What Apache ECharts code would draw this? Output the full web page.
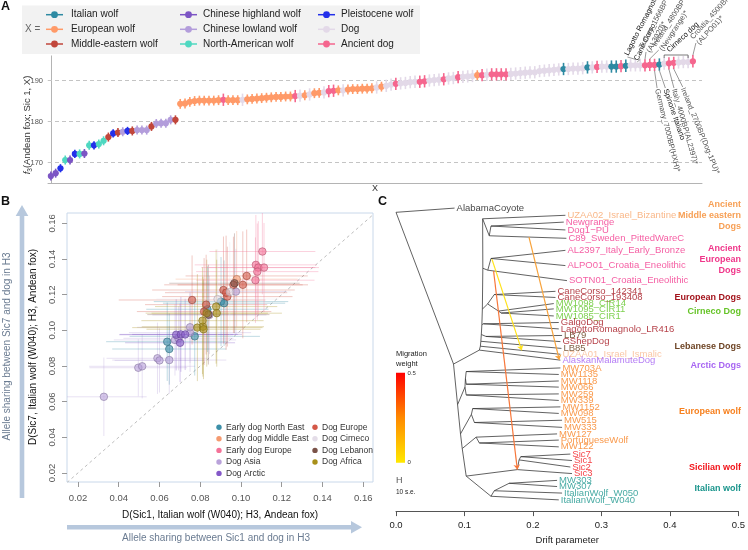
<!DOCTYPE html>
<html><head><meta charset="utf-8">
<script src="https://cdn.jsdelivr.net/npm/echarts@6/dist/echarts.min.js"></script>
<style>html,body{margin:0;padding:0;background:#fff}#c{width:748px;height:550px}</style>
</head><body><div id="c"></div>
<script>
// ---------------- Panel A data ----------------
const aGroupNames = ['Italian wolf','European wolf','Middle-eastern wolf','Chinese highland wolf','Chinese lowland wolf','North-American wolf','Pleistocene wolf','Dog','Ancient dog'];
const aGroupColors = ['#2e8aa2','#ff9a68','#c1463b','#7c55c4','#b39ddb','#4fd8c1','#2330ea','#e3d9e8','#f5668e'];
const aGroupErr = [1.5,1.2,1.1,1.1,1.1,1.1,1.0,1.5,1.5];
const aValues = [
 166.7,167.4,168.6,170.6,170.6,172.1,172.1,172.2,174.2,174.2,174.5,175.3,176.2,177.1,177.3,177.5,177.7,177.7,177.9,177.9,177.9,178.8,179.5,179.6,179.6,180.4,180.4,
 184.3,184.4,184.8,185.0,185.1,185.1,185.1,185.1,185.2,185.3,185.2,185.2,185.2,185.3,185.4,185.5,185.6,185.7,185.8,185.9,186.0,186.0,186.1,186.1,186.2,186.3,186.4,186.6,186.9,187.0,187.1,187.4,187.5,187.6,187.6,187.8,187.9,187.9,188.0,188.0,
 188.1,188.3,188.5,188.7,189.0,189.2,189.3,189.4,189.6,189.7,189.7,189.8,190.0,190.1,190.2,190.3,190.5,190.6,190.8,190.9,
 191.0,191.1,191.3,191.3,191.4,191.5,191.5,191.5,191.5,191.6,191.7,191.8,191.9,192.0,192.0,192.3,192.4,192.5,192.6,192.7,
 192.8,192.8,192.9,192.9,193.0,193.2,193.2,193.3,193.4,193.4,193.4,193.4,193.5,193.6,193.7,193.7,193.7,193.7,193.8,193.8,
 193.9,194.1,194.2,194.3,194.4,194.5,194.5,194.7];
const aGroups = [
 3,3,6,5,3,6,5,3,5,6,5,5,2,6,2,4,6,2,4,4,4,2,4,4,4,4,2,
 1,1,1,1,1,1,1,1,1,8,1,1,1,7,1,1,1,1,1,1,1,1,1,1,8,7,1,7,1,1,7,8,8,1,7,1,1,1,1,1,
 1,7,1,7,7,8,7,7,7,7,8,8,7,7,7,8,7,7,8,7,
 7,7,1,8,7,8,8,8,8,7,7,7,7,7,7,7,7,7,7,7,
 0,7,7,7,7,0,7,8,7,7,0,0,8,0,7,7,7,8,8,8,
 0,7,8,8,7,7,7,8];
const aTickValues = [170,180,190];

// ---------------- Panel B data ----------------
const bGroupNames = ['Early dog North East','Early dog Middle East','Early dog Europe','Dog Asia','Dog Arctic','Dog Europe','Dog Cirneco','Dog Lebanon','Dog Africa'];
const bGroupColors = ['#3c8fa8','#f59a70','#f47298','#b9a2da','#8458c8','#d45848','#e4dde8','#7a5248','#a8901a'];
const bX = [0.0327,0.0496,0.0515,0.059,0.060,0.0648,0.0676,0.0693,0.075,0.075,0.0845,0.0975,
 0.0682,0.0705,0.0726,0.0701,
 0.0638,0.0648,0.0773,0.0835,0.0902,0.0917,
 0.0786,0.0813,0.0811,0.0816,0.0832,0.0878,0.0881,
 0.076,0.0829,0.0819,0.0914,0.0933,0.0927,0.0963,0.1009,0.1028,
 0.0968,0.0840,
 0.0979,
 0.1105,0.1073,0.1085,0.1113,0.1080,0.1071,
 0.0885,0.0945];
const bY = [0.0627,0.079,0.0798,0.0843,0.0831,0.0833,0.0946,0.0955,0.0987,0.1017,0.1086,0.1217,
 0.0975,0.0977,0.0977,0.093,
 0.0936,0.0895,0.0966,0.1118,0.1161,0.1152,
 0.1015,0.102,0.1054,0.1006,0.1096,0.1133,0.1096,
 0.117,0.1144,0.1105,0.1226,0.1189,0.1211,0.1255,0.1255,0.1305,
 0.1264,0.1088,
 0.1287,
 0.1442,0.1367,0.1352,0.1352,0.1329,0.1281,
 0.1175,0.1215];
const bErrX = [0.021,0.024,0.026,0.025,0.022,0.028,0.03,0.027,0.03,0.026,0.028,0.025,
 0.028,0.03,0.026,0.027,
 0.03,0.028,0.032,0.03,0.033,0.03,
 0.032,0.03,0.03,0.028,0.03,0.03,0.032,
 0.036,0.03,0.033,0.035,0.032,0.03,0.034,0.032,0.03,
 0.032,0.03,
 0.03,
 0.026,0.03,0.028,0.027,0.03,0.029,
 0.03,0.03];
const bErrY = [0.022,0.016,0.018,0.02,0.018,0.019,0.02,0.018,0.022,0.02,0.022,0.024,
 0.02,0.021,0.02,0.022,
 0.022,0.02,0.022,0.024,0.025,0.024,
 0.03,0.028,0.03,0.028,0.03,0.032,0.03,
 0.025,0.028,0.03,0.03,0.028,0.032,0.027,0.03,0.026,
 0.028,0.028,
 0.027,
 0.024,0.028,0.026,0.025,0.027,0.024,
 0.028,0.028];
const bGroup = [3,3,3,3,3,3,3,3,3,3,3,3, 4,4,4,4, 0,0,0,0,0,0, 8,8,8,8,8,8,8, 5,5,5,5,5,5,5,5,5, 7,7, 1, 2,2,2,2,2,2, 6,6];
const bTicks = [0.02,0.04,0.06,0.08,0.10,0.12,0.14,0.16];

// ---------------- Panel C data (TreeMix tree) ----------------
const nodeNames  = ['R','A','S1','S2','S3','S4','G1','S5','G2','S6','CIRCC','CC','CIR','CIRb','S7','E1','E2','C','T1','T2','V1','Wabc','Wab','Wa','Wb','Wc','V2','Wde','Wd','We','V3','Wf','Wg','Sa','Sc0','Sc1','Sc2','It0','It1','It2'];
const nodeParent = ['','R','A','S1','S2','S3','S4','S4','S5','S5','S6','CIRCC','CIRCC','CIR','S6','S7','E1','S7','C','T1','A','V1','Wabc','Wab','Wab','Wabc','V1','V2','Wde','Wde','V2','V3','Wf','V3','Sa','Sc0','Sc1','Sa','It0','It1'];
const nodeDrift  = [0.0,0.084,0.1217,0.1232,0.1239,0.1246,0.1314,0.1254,0.1275,0.1261,0.1338,0.1435,0.1497,0.1536,0.1268,0.134,0.1387,0.1265,0.1362,0.1387,0.0899,0.1007,0.1014,0.1025,0.1025,0.1025,0.0942,0.1101,0.112,0.1145,0.0967,0.117,0.1217,0.1025,0.1772,0.1797,0.1822,0.1387,0.1435,0.1652];
const nodeRow    = [1.9,25.31,23.16,22.56,21.8,20.75,21.05,19.25,19.1,16.84,16.04,14.59,17.14,17.44,10.53,10.83,9.02,2.9,5.52,4.02,31.58,28.87,27.52,26.47,28.42,30.08,36.09,33.08,32.18,34.33,38.35,36.59,37.49,42.6,41.6,40.1,39.6,45.71,44.86,43.71];
const leafNames = ['AlabamaCoyote','UZAA02_Israel_Bizantine','Newgrange','Dog1\u2212PU','C89_Sweden_PittedWareC','AL2397_Italy_Early_Bronze','ALPO01_Croatia_Eneolithic','SOTN01_Croatia_Eneolithic','CaneCorso_142341','CaneCorso_193408','MW1098_CIR14','MW1095_CIR11','MW1085_CIR1','GalgoDog','LagottoRomagnolo_LR416','LB79','GShepDog','LB85','UZAA01_Israel_Ismalic','AlaskanMalamuteDog','MW703A','MW1135','MW1118','MW066','MW259','MW339','MW1152','MW098','MW515','MW333','MW127','PortugueseWolf','MW122','Sic7','Sic1','Sic2','Sic3','MW303','MW307','ItalianWolf_W050','ItalianWolf_W040'];
const leafParent = ['R','C','T2','T2','T1','E2','E2','E1','CC','CC','CIR','CIRb','CIRb','G2','G2','G1','G1','S3','S2','S1','Wa','Wa','Wb','Wb','Wc','Wc','Wd','Wd','We','We','Wf','Wg','Wg','Sc2','Sc2','Sc1','Sc0','It2','It2','It1','It0'];
const leafDrift = [0.0855,0.2474,0.245,0.2474,0.2488,0.2474,0.2474,0.2497,0.2329,0.2329,0.2304,0.2304,0.2304,0.2377,0.2377,0.2425,0.2401,0.2416,0.2401,0.2401,0.2401,0.2377,0.2377,0.2377,0.2377,0.2377,0.2401,0.2377,0.2425,0.2425,0.2352,0.2377,0.2377,0.2546,0.257,0.2546,0.257,0.2352,0.2352,0.2425,0.2377];
const leafRow = [1.25,2.36,3.41,4.62,5.91,7.77,10.12,12.44,14.09,15.04,15.98,16.8,17.89,18.9,19.89,20.9,21.85,22.9,23.8,24.71,25.91,26.92,27.92,28.87,29.92,30.93,31.92,32.93,33.98,35.08,36.09,37.04,38.09,39.2,40.2,41.2,42.21,43.26,44.21,45.22,46.27];
const leafColorIdx = [0,1,2,2,2,2,2,2,3,3,4,4,4,3,3,5,3,5,6,7,8,8,8,8,8,8,8,8,8,8,8,8,8,9,9,9,9,10,10,10,10];
const treeColors = ['#111111','#f7a56a','#f2368c','#a3101a','#5ec424','#5c3310','#f9b990','#a35ef2','#f7801e','#f2141a','#19958c'];
const migFrom = [[0.1942,5.72],[0.1401,9.13],[0.1425,10.95]];
const migTo   = [[0.2385,24.68],[0.1836,23.2],[0.1772,41.6]];
const migColor = ['#f8a33c','#ffe21c','#f7773a'];

// ---------------- helpers ----------------
const FF = '"Liberation Sans", Arial, Helvetica, sans-serif';
const font = (s, w) => (w ? w + ' ' : '') + s + 'px ' + FF;
function rgba(hex, a){const n=parseInt(hex.slice(1),16);return 'rgba('+(n>>16&255)+','+(n>>8&255)+','+(n&255)+','+a+')';}
function darker(hex, f){const n=parseInt(hex.slice(1),16);const c=[n>>16&255,n>>8&255,n&255].map(v=>Math.round(v*f));return 'rgb('+c.join(',')+')';}

const chart = echarts.init(document.getElementById('c'));

// tree edges
const nIdx = {}; nodeNames.forEach((n,k)=>nIdx[n]=k);
const posOf = n => [nodeDrift[nIdx[n]], nodeRow[nIdx[n]]];
const treeEdges = [];
nodeNames.forEach((n,k)=>{ if (nodeParent[k]) treeEdges.push({coords:[posOf(nodeParent[k]), [nodeDrift[k], nodeRow[k]]]}); });
leafNames.forEach((n,k)=> treeEdges.push({coords:[posOf(leafParent[k]), [leafDrift[k], leafRow[k]]]}));

const series = [];
// A gridlines
series.push({type:'custom', xAxisIndex:0, yAxisIndex:0, silent:true, z:1,
  data: aTickValues.map(v=>[0,v]),
  renderItem(params, api){
    const cs = params.coordSys; const y = api.coord([0, api.value(1)])[1];
    return {type:'line', shape:{x1:cs.x, y1:y, x2:cs.x+cs.width, y2:y}, style:{stroke:'#c4c4c4', lineWidth:1, lineDash:[4,3]}};
  }});
// A points
series.push({type:'custom', xAxisIndex:0, yAxisIndex:0, z:3,
  data: aValues.map((v,i)=>[i, v, aGroups[i]]),
  renderItem(params, api){
    const i=api.value(0), v=api.value(1), g=api.value(2);
    const p=api.coord([i,v]), t=api.coord([i,v+aGroupErr[g]]), b=api.coord([i,v-aGroupErr[g]]);
    const c=aGroupColors[g];
    return {type:'group', children:[
      {type:'line', shape:{x1:p[0],y1:t[1],x2:p[0],y2:b[1]}, style:{stroke:c, lineWidth:1.6}},
      {type:'line', shape:{x1:p[0]-2.8,y1:p[1],x2:p[0]+2.8,y2:p[1]}, style:{stroke:c, lineWidth:1.2}},
      {type:'circle', shape:{cx:p[0],cy:p[1],r:3.1}, style:{fill:c}}
    ]};
  }});
// B diagonal
series.push({type:'line', xAxisIndex:1, yAxisIndex:1, symbol:'none', silent:true, z:1,
  data:[[0.0146,0.0146],[0.1655,0.1655]], lineStyle:{color:'#bdbdbd', width:1, type:[3,3]}});
// B error bars
series.push({type:'custom', xAxisIndex:1, yAxisIndex:1, clip:true, z:2, silent:true,
  data: bX.map((x,k)=>[x, bY[k], bErrX[k], bErrY[k], bGroup[k]]),
  renderItem(params, api){
    const x=api.value(0), y=api.value(1), ex=api.value(2), ey=api.value(3), g=api.value(4);
    const c=bGroupColors[g];
    const l=api.coord([x-ex,y]), r=api.coord([x+ex,y]), t=api.coord([x,y+ey]), b=api.coord([x,y-ey]);
    return {type:'group', children:[
      {type:'line', shape:{x1:l[0],y1:l[1],x2:r[0],y2:r[1]}, style:{stroke:c, lineWidth:1, opacity:0.32}},
      {type:'line', shape:{x1:t[0],y1:t[1],x2:b[0],y2:b[1]}, style:{stroke:c, lineWidth:1, opacity:0.32}}
    ]};
  }});
// B points
bGroupNames.forEach((name,g)=>{
  const d=[]; bX.forEach((x,k)=>{ if (bGroup[k]===g) d.push([x,bY[k]]); });
  series.push({type:'scatter', name, xAxisIndex:1, yAxisIndex:1, z:4, symbolSize:7.5, data:d,
    itemStyle:{color:rgba(bGroupColors[g],0.75), borderColor:darker(bGroupColors[g],0.75), borderWidth:0.8}});
});
// C tree
series.push({type:'lines', coordinateSystem:'cartesian2d', xAxisIndex:2, yAxisIndex:2, z:2, silent:true,
  data: treeEdges, lineStyle:{color:'#3a3a3a', width:0.8, opacity:1}});
series.push({type:'lines', coordinateSystem:'cartesian2d', xAxisIndex:2, yAxisIndex:2, z:3, silent:true,
  symbol:['none','arrow'], symbolSize:5,
  data: migFrom.map((f,k)=>({coords:[f, migTo[k]], lineStyle:{color:migColor[k]}})),
  lineStyle:{width:1.2, opacity:1}});
series.push({type:'scatter', xAxisIndex:2, yAxisIndex:2, z:4, symbolSize:1, itemStyle:{color:'rgba(0,0,0,0)'}, silent:true,
  data: leafNames.map((n,k)=>({name:n, value:[leafDrift[k], leafRow[k]], label:{color:treeColors[leafColorIdx[k]]}})),
  label:{show:true, position:'right', distance:1.5, formatter:'{b}', fontSize:9.5, fontFamily:FF}});

const option = {
  animation:false,
  backgroundColor:'#fff',
  textStyle:{fontFamily:FF},
  grid:[
    {left:48, top:55.9, width:654, height:127.1},
    {left:67, top:213, width:306, height:269, show:true, borderColor:'#c9d8ea', borderWidth:1, backgroundColor:'transparent'},
    {left:396, top:200, width:345, height:319.2}
  ],
  xAxis:[
    {gridIndex:0, type:'value', min:-0.6, max:135.9, axisLine:{show:true, lineStyle:{color:'#b4b4b4'}}, axisTick:{show:false}, axisLabel:{show:false}, splitLine:{show:false},
      name:'X', nameLocation:'middle', nameGap:1, nameTextStyle:{fontSize:9, color:'#333', verticalAlign:'top'}},
    {gridIndex:1, type:'value', min:0.0146, max:0.1648, axisLine:{show:false}, splitLine:{show:false},
      axisTick:{show:true, customValues:bTicks, length:5, lineStyle:{color:'#999'}},
      axisLabel:{customValues:bTicks, formatter:v=>v.toFixed(2), fontSize:9.5, color:'#555', margin:11}},
    {gridIndex:2, type:'value', position:'bottom', min:0, max:0.5, interval:0.1, splitLine:{show:false},
      axisLine:{show:true, onZero:false, lineStyle:{color:'#555'}}, axisTick:{show:true, length:5, lineStyle:{color:'#555'}},
      axisLabel:{formatter:v=>v.toFixed(1), fontSize:9.5, color:'#222', margin:9},
      name:'Drift parameter', nameLocation:'middle', nameGap:21, nameTextStyle:{fontSize:9.5, color:'#222'}}
  ],
  yAxis:[
    {gridIndex:0, type:'value', min:165, max:196, splitLine:{show:false},
      axisLine:{show:true, lineStyle:{color:'#b4b4b4'}},
      axisTick:{show:true, customValues:aTickValues, length:3, lineStyle:{color:'#999'}},
      axisLabel:{customValues:aTickValues, fontSize:7.5, color:'#555', margin:5}},
    {gridIndex:1, type:'value', min:0.0149, max:0.1658, axisLine:{show:false}, splitLine:{show:false},
      axisTick:{show:true, customValues:bTicks, length:5, lineStyle:{color:'#999'}},
      axisLabel:{customValues:bTicks, formatter:v=>v.toFixed(2), rotate:90, fontSize:9.5, color:'#555', margin:10}},
    {gridIndex:2, type:'value', min:0, max:48, inverse:true, show:false}
  ],
  series
};
chart.setOption(option);

// ---------------- graphics / annotations ----------------
const G = [];
const txt = (x,y,text,o={}) => G.push({type:'text', x, y, rotation:o.rot||0, silent:true, z:100,
  style:{text, fill:o.fill||'#111', font:font(o.size||9, o.weight), align:o.align||'left', verticalAlign:o.va||'middle', rich:o.rich, lineHeight:o.lh}});
const line = (x1,y1,x2,y2,stroke,w) => G.push({type:'line', silent:true, z:100, shape:{x1,y1,x2,y2}, style:{stroke, lineWidth:w||0.8}});

// panel letters
txt(1,7,'A',{size:12.5, weight:'bold'});
txt(1,202,'B',{size:12.5, weight:'bold'});
txt(378,202,'C',{size:12.5, weight:'bold'});

// Panel A legend
G.push({type:'rect', silent:true, z:90, shape:{x:22,y:5.5,width:398,height:48.5}, style:{fill:'#f2f2f2'}});
txt(25,29.5,'X =',{size:10, fill:'#666'});
const legColX=[46,180,318], legTxtX=[71,203,341], legRowY=[14.7,29.3,44];
aGroupNames.forEach((n,k)=>{
  const c=Math.floor(k/3), r=k%3, c0=aGroupColors[k];
  line(legColX[c], legRowY[r], legColX[c]+17, legRowY[r], c0, 1.5);
  G.push({type:'circle', silent:true, z:101, shape:{cx:legColX[c]+8.5, cy:legRowY[r], r:3.4}, style:{fill:c0}});
  txt(legTxtX[c], legRowY[r], n, {size:10, fill:'#222'});
});
// Panel A y-axis name
txt(27.5,125,'{i|f}{s|3}(Andean fox; Sic 1, X)',{rot:Math.PI/2, align:'center', fill:'#333', size:9.5,
  rich:{i:{fontStyle:'italic', fontSize:9.5, fontFamily:FF, fill:'#333'}, s:{fontSize:6.5, fontFamily:FF, fill:'#333', padding:[5,0,0,0]}}});

// Panel A annotations
const pA = i => chart.convertToPixel({gridIndex:0},[i, aValues[i]]);
const topNotes = [
  {i:122, t:'Lagotto Romagnolo', b:true, dx:-9, y:55, rot:63},
  {i:123, t:'Cane Corso', b:true, dx:-4, y:60, rot:64},
  {i:124, t:'Turkey_1566BP\n(AL3020)*', dx:0, y:50, rot:62},
  {i:125, t:'Ireland_4800BP\n(Newgrange)*', dx:8, y:48, rot:57},
  {i:134, t:'Croatia_4500BP\n(ALPO01)*', dx:2, y:41, rot:48}
];
topNotes.forEach(n=>{
  const p=pA(n.i), lx=p[0]+n.dx;
  line(p[0], p[1]-6, lx+1, n.y+2, '#555', 0.6);
  txt(lx, n.y, n.t, {rot:n.rot*Math.PI/180, size:7.5, fill:n.b?'#111':'#555', lh:8.5});
});
// Cirneco bracket
{
  const p1=pA(128), p2=pA(133);
  line(p1[0], 55, p2[0], 55, '#444', 0.7);
  line(p1[0], 55, p1[0], 58, '#444', 0.7);
  line(p2[0], 55, p2[0], 58, '#444', 0.7);
  txt(p1[0]+4, 51, 'Cirneco dog', {rot:43*Math.PI/180, size:7.5, fill:'#111'});
}
const botNotes = [
  {i:126, t:'Germany_7000BP(HXH)*', dx:2.5, y:89, rot:-76},
  {i:127, t:'Spinone Italiano', b:true, dx:6, y:89, rot:-71},
  {i:129, t:'Italy_4000BP(AL2397)*', dx:5, y:89, rot:-74},
  {i:130, t:'Ireland_2700BP(Dog-1PU)*', dx:9, y:88, rot:-68}
];
botNotes.forEach(n=>{
  const p=pA(n.i), lx=p[0]+n.dx;
  line(p[0], p[1]+6, lx, n.y-1, '#555', 0.6);
  txt(lx, n.y, n.t, {rot:n.rot*Math.PI/180, size:7.5, fill:n.b?'#111':'#555'});
});

// Panel B axis names and arrows
txt(220,515.7,'D(Sic1, Italian wolf (W040); H3, Andean fox)',{size:10, align:'center', fill:'#111'});
txt(33,347,'D(Sic7, Italian wolf (W040); H3, Andean fox)',{size:10, align:'center', fill:'#111', rot:Math.PI/2});
txt(216,538,'Allele sharing between Sic1 and dog in H3',{size:10, align:'center', fill:'#6a7b91'});
txt(7.5,346.5,'Allele sharing between Sic7 and dog in H3',{size:10, align:'center', fill:'#6a7b91', rot:Math.PI/2});
G.push({type:'rect', silent:true, z:90, shape:{x:67,y:525,width:285,height:4.6}, style:{fill:'#b7c8dd'}});
G.push({type:'polygon', silent:true, z:90, shape:{points:[[351,521],[362,527.3],[351,533.6]]}, style:{fill:'#b7c8dd'}});
G.push({type:'rect', silent:true, z:90, shape:{x:19.7,y:215,width:4.6,height:283}, style:{fill:'#b7c8dd'}});
G.push({type:'polygon', silent:true, z:90, shape:{points:[[15.7,216],[22,205],[28.3,216]]}, style:{fill:'#b7c8dd'}});
// Panel B legend
const bLegColDot=[219,315], bLegRowY=[427.3,438.8,450.4,462,473.4];
bGroupNames.forEach((n,k)=>{
  const c = k<5?0:1, r = k<5?k:k-5;
  G.push({type:'circle', silent:true, z:100, shape:{cx:bLegColDot[c], cy:bLegRowY[r], r:2.7}, style:{fill:bGroupColors[k]}});
  txt(bLegColDot[c]+7, bLegRowY[r], n, {size:8.5, fill:'#333'});
});

// Panel C group labels
const cLabels = [
  ['Ancient',204.3,'#f7a056'],['Middle eastern',215.7,'#f7a056'],['Dogs',226.7,'#f7a056'],
  ['Ancient',248.3,'#f0368a'],['European',259.7,'#f0368a'],['Dogs',270.7,'#f0368a'],
  ['European Dogs',297.7,'#a3141c'],['Cirneco Dog',312,'#66c428'],['Lebanese Dogs',346.7,'#6e4526'],
  ['Arctic Dogs',365.7,'#a866f2'],['European wolf',411.7,'#f7801e'],['Sicilian wolf',467.7,'#f2141a'],['Italian wolf',488.3,'#1a958c']
];
cLabels.forEach(l=>txt(741,l[1],l[0],{size:9, weight:'bold', fill:l[2], align:'right'}));
// migration weight legend
txt(396,354.3,'Migration',{size:7.5, fill:'#222'});
txt(396,363.5,'weight',{size:7.5, fill:'#222'});
G.push({type:'rect', silent:true, z:100, shape:{x:396,y:372.7,width:9,height:90},
  style:{fill:new echarts.graphic.LinearGradient(0,0,0,1,[{offset:0,color:'#ff0000'},{offset:0.5,color:'#ff8a00'},{offset:1,color:'#ffe800'}])}});
txt(407.5,373.5,'0.5',{size:6, fill:'#333'});
txt(407.5,462.5,'0',{size:6, fill:'#333'});
txt(396,481,'H',{size:9, fill:'#555'});
txt(396,492.7,'10 s.e.',{size:6.5, fill:'#222'});

chart.setOption({graphic:G});
</script></body></html>
